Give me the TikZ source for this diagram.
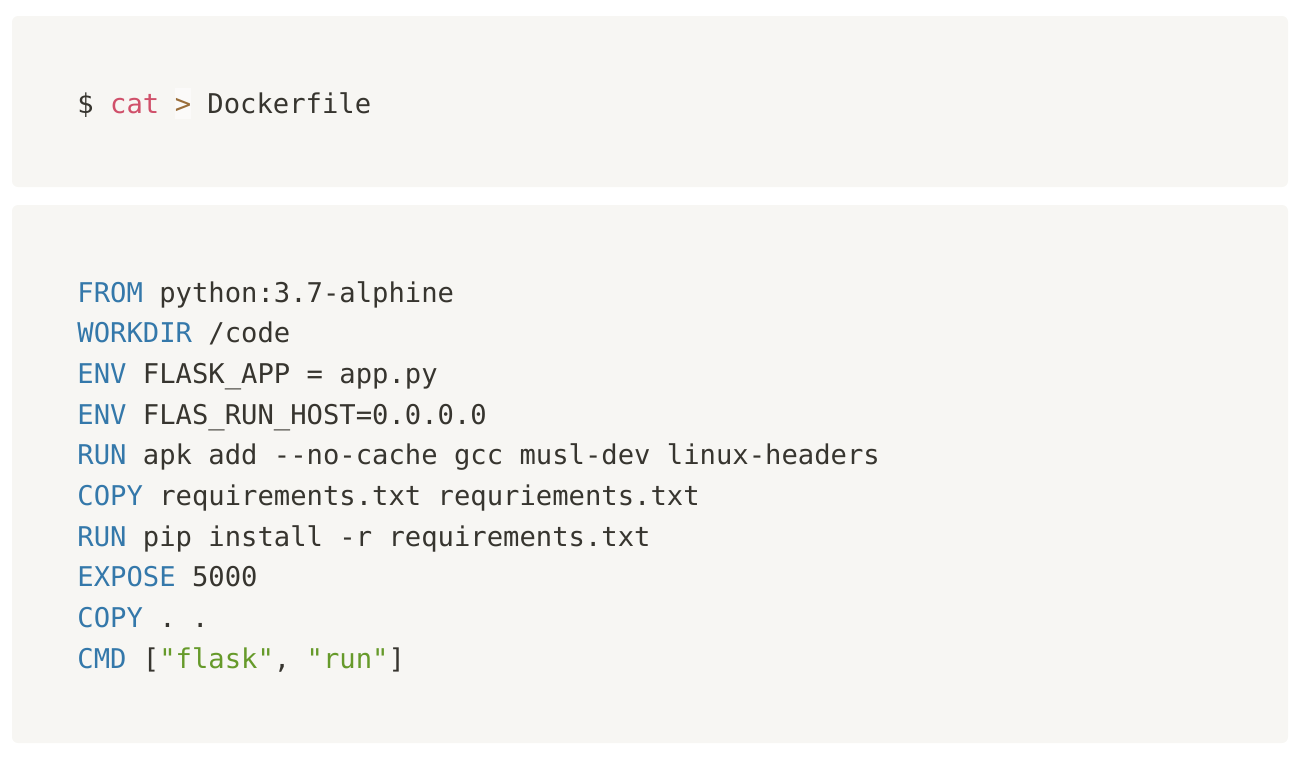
\documentclass[tikz,border=0pt]{standalone}
\usepackage{fontspec}
\setmonofont{DejaVu Sans Mono}
\definecolor{codebg}{HTML}{F7F6F3}
\definecolor{codetxt}{HTML}{37352F}
\definecolor{codekw}{HTML}{3478AA}
\definecolor{codefn}{HTML}{D0506A}
\definecolor{codeop}{HTML}{9A6E3A}
\definecolor{codestr}{HTML}{669A2A}
\tikzset{
  codebox/.style={fill=codebg, rounded corners=3pt},
  codeline/.style={anchor=base west, inner sep=0pt, font=\fontsize{13.6}{16}\selectfont\ttfamily, text=codetxt},
}
\newcommand{\kw}[1]{\textcolor{codekw}{#1}}
\newcommand{\strg}[1]{\textcolor{codestr}{#1}}

\begin{document}
\begin{tikzpicture}[x=0.5pt,y=-0.5pt]
  \useasboundingbox (0,0) rectangle (1304,760);
  % boxes
  \fill[codebox] (12,16) rectangle (1288,187);
  \fill[codebox] (12,205) rectangle (1288,743);
  % shell line
  \node[codeline] (prompt) at (77,113) {\$ \textcolor{codefn}{cat}};
  \node[codeline, fill=white, fill opacity=0.5, text opacity=1, text=codeop,
        text height=12.5pt, text depth=3pt] (redir) at (174.5,113) {>};
  \node[codeline] (target) at (207,113) {Dockerfile};
  % dockerfile
  \foreach \txt [count=\i] in {
    {\kw{FROM} python:3.7-alphine},
    {\kw{WORKDIR} /code},
    {\kw{ENV} FLASK\_APP = app.py},
    {\kw{ENV} FLAS\_RUN\_HOST=0.0.0.0},
    {\kw{RUN} apk add -{}-no-cache gcc musl-dev linux-headers},
    {\kw{COPY} requirements.txt requriements.txt},
    {\kw{RUN} pip install -r requirements.txt},
    {\kw{EXPOSE} 5000},
    {\kw{COPY} . .},
    {\kw{CMD} [\strg{"flask"}, \strg{"run"}]}
  } {
    \node[codeline] (line\i) at (77,{261.3+40.7*\i}) {\txt};
  }
\end{tikzpicture}
\end{document}
